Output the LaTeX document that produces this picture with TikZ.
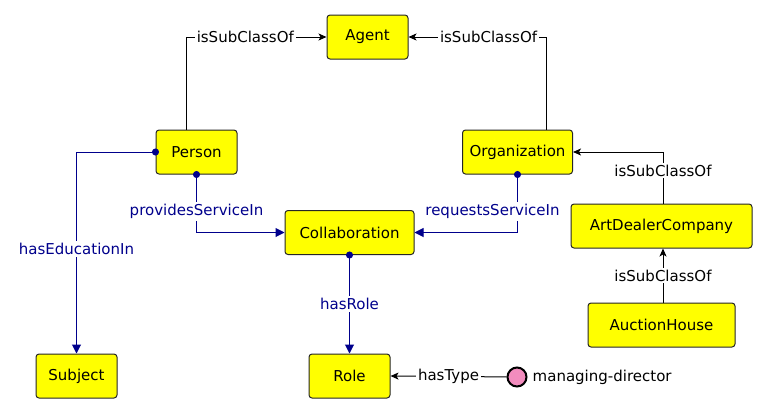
\documentclass[tikz,border=0pt]{standalone}
\usepackage{fontspec}
\setmainfont{DejaVu Sans}
\usetikzlibrary{arrows.meta}
\definecolor{propblue}{RGB}{0,0,140}
\definecolor{boxyellow}{RGB}{255,255,0}
\definecolor{indpink}{RGB}{242,140,190}
\begin{document}
\begin{tikzpicture}[
			x=1pt, y=-1pt,
			font=\fontsize{15}{18}\selectfont,
			class/.style={draw=black!85, fill=boxyellow, rounded corners=3pt, line width=1pt,
				minimum height=44pt, inner sep=0pt},
			sub/.style={draw=black, line width=1pt, -{Stealth[length=8pt,width=7pt,inset=2pt]}},
			prop/.style={draw=propblue, line width=1pt, {Circle[length=7pt]}-{Triangle[length=9pt,width=9pt]}, shorten <=-3.5pt},
			lbl/.style={fill=white, inner sep=2pt},
			plbl/.style={lbl, text=propblue}
			]
			\useasboundingbox (0,0) rectangle (768,413);
			\node[class, minimum width=81pt] (Agent) at (367.5,37) {Agent};
			\node[class, minimum width=81pt] (Person) at (196.5,152) {Person};
			\node[class, minimum width=110pt] (Organization) at (517.5,152) {Organization};
			\node[class, minimum width=129pt] (Collaboration) at (349.5,232.5) {Collaboration};
			\node[class, minimum width=81pt] (Subject) at (76.5,376) {Subject};
			\node[class, minimum width=81pt] (Role) at (349.5,376) {Role};
			\node[class, minimum width=181pt] (ArtDealerCompany) at (661.5,226) {ArtDealerCompany};
			\node[class, minimum width=147pt] (AuctionHouse) at (661.5,325) {AuctionHouse};
			\node[circle, draw=black, line width=2pt, fill=indpink, minimum size=19pt, inner sep=0pt,
				label={[inner sep=0pt, xshift=5pt]right:managing-director}] (director) at (517,377) {};
			\draw[sub] ([xshift=-10pt]Person.north) |- node[lbl, pos=0.71] {isSubClassOf} (Agent.west);
			\draw[sub] ([xshift=29pt]Organization.north) |- node[lbl, pos=0.71] {isSubClassOf} (Agent.east);
			\draw[sub] ([xshift=1.5pt]ArtDealerCompany.north) |- node[lbl, pos=0.32] {isSubClassOf} (Organization.east);
			\draw[sub] ([xshift=1.5pt]AuctionHouse.north) -- node[lbl] {isSubClassOf} ([xshift=1.5pt]ArtDealerCompany.south);
			\draw[sub] (director) -- node[lbl] {hasType} (Role.east);
			\draw[prop] (Person.west) -| node[plbl, pos=0.74] {hasEducationIn} (Subject.north);
			\draw[prop] (Person.south) |- node[plbl, pos=0.32] {providesServiceIn} (Collaboration.west);
			\draw[prop] (Organization.south) |- node[plbl, pos=0.32, xshift=-25pt] {requestsServiceIn} (Collaboration.east);
			\draw[prop] (Collaboration.south) -- node[plbl] {hasRole} (Role.north);
		\end{tikzpicture}
\end{document}
